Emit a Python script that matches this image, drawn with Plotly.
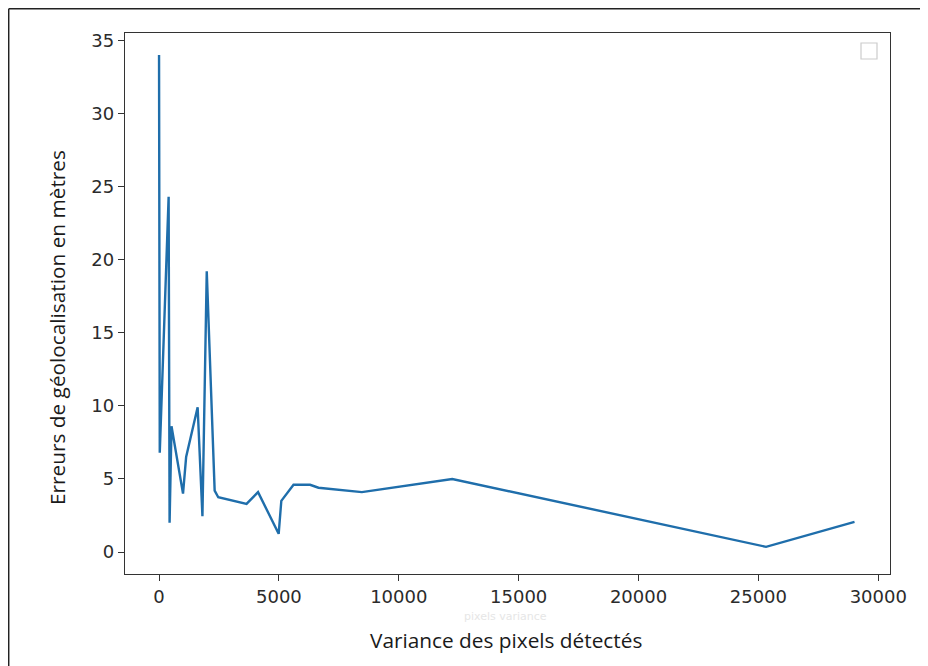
import plotly.graph_objects as go

# Data
variance = [0, 10, 20, 30, 400, 440, 520, 1000, 1130, 1610, 1810, 1990,
            2320, 2470, 3650, 4130, 4990, 5100, 5610, 6300, 6650, 8460,
            12230, 25320, 29010]
erreurs = [34.0, 24.6, 31.5, 6.8, 24.3, 2.0, 8.6, 4.0, 6.5, 9.9, 2.45, 19.2,
           4.2, 3.75, 3.3, 4.1, 1.25, 3.5, 4.6, 4.6, 4.4, 4.1,
           5.0, 0.36, 2.07]

x_ticks = [0, 5000, 10000, 15000, 20000, 25000, 30000]
y_ticks = [0, 5, 10, 15, 20, 25, 30, 35]

x_title = "Variance des pixels détectés"
y_title = "Erreurs de géolocalisation en mètres"
hidden_title = "pixels variance"

fig = go.Figure()
fig.add_trace(go.Scatter(
    x=variance, y=erreurs, mode="lines",
    line=dict(color="#1f6eab", width=2.4),
    showlegend=False, hoverinfo="skip",
))

tick_font = dict(family="DejaVu Sans", size=18, color="#2b2b2b")
axis_common = dict(
    showgrid=False, zeroline=False, showline=True, mirror=True,
    linecolor="#333333", linewidth=1.3,
    ticks="outside", ticklen=6, tickwidth=1.2, tickcolor="#333333",
    tickfont=tick_font,
)
fig.update_xaxes(range=[-1420, 30490], tickvals=x_ticks,
                 ticktext=[str(v) for v in x_ticks], **axis_common)
fig.update_yaxes(range=[-1.5, 35.5], tickvals=y_ticks,
                 ticktext=[str(v) for v in y_ticks], **axis_common)

OFF = 8  # page body margin
W, H = 928, 666
# plot area in page pixels: left 125, right 890, top 33, bottom 574
L = 125 - OFF
T = 33 - OFF
R = W - (890 - OFF)
B = H - (574 - OFF)
pw, ph = W - L - R, H - T - B


def px(xp):
    return (xp - OFF - L) / pw


def py(yp):
    return (H - B - (yp - OFF)) / ph


label_font = dict(family="Open Sans", size=20.8, color="#1a1a1a")
fig.add_annotation(text=x_title, x=px(506), y=py(640), xref="paper", yref="paper",
                   showarrow=False, font=label_font, xanchor="center", yanchor="middle",
                   borderpad=0)
fig.add_annotation(text=y_title, x=px(57), y=py(328), xref="paper", yref="paper",
                   showarrow=False, font=label_font, textangle=-90,
                   xanchor="center", yanchor="middle")
fig.add_annotation(text=hidden_title, x=px(505), y=py(616), xref="paper", yref="paper",
                   showarrow=False, font=dict(family="DejaVu Sans", size=11, color="#e6e6e6"),
                   xanchor="center", yanchor="middle", borderpad=0)

# empty legend box
fig.add_shape(type="rect", xref="paper", yref="paper",
              x0=px(861), x1=px(877), y0=py(59), y1=py(43),
              line=dict(color="#cccccc", width=1.2), fillcolor="rgba(0,0,0,0)")

# outer frame of the screenshot
frame = dict(color="#222222", width=1.5)
fig.add_shape(type="line", xref="paper", yref="paper", x0=px(8.7), x1=px(8.7), y0=py(8.7), y1=py(680), line=frame)
fig.add_shape(type="line", xref="paper", yref="paper", x0=px(8.7), x1=px(921), y0=py(8.7), y1=py(8.7), line=frame)
fig.add_shape(type="line", xref="paper", yref="paper", x0=px(921), x1=px(921), y0=py(8.7), y1=py(680), line=frame)

fig.update_layout(
    width=W, height=H,
    margin=dict(l=L, r=R, t=T, b=B),
    paper_bgcolor="white", plot_bgcolor="white",
    showlegend=False,
)

fig.write_html("out.html")
